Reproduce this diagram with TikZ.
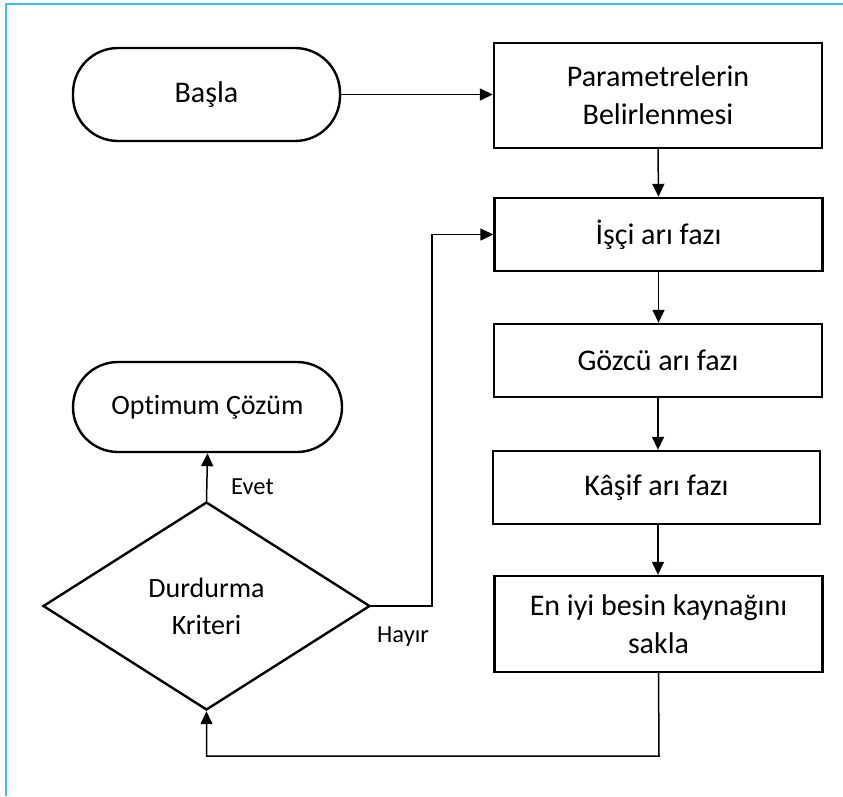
\documentclass[tikz,border=0pt]{standalone}
\usepackage{fontspec}
\setmainfont{Carlito}[Ligatures=NoCommon]
\usetikzlibrary{shapes.geometric,arrows.meta}
\definecolor{framebl}{RGB}{60,190,238}
\begin{document}
\begin{tikzpicture}[x=1pt,y=-1pt,
  boxtxt/.style={font=\fontsize{30}{38}\selectfont, align=center, inner sep=0pt},
  procbox/.style={boxtxt, draw, line width=2.4pt, minimum width=328pt, minimum height=74pt},
  termbox/.style={draw, line width=2.4pt, rounded corners=45pt, inner sep=0pt, align=center},
  decbox/.style={draw, diamond, line width=2.4pt, inner sep=0pt, aspect=1.57,
    minimum width=327pt, minimum height=208pt, align=center,
    font=\fontsize{28}{37}\selectfont},
  lbl/.style={font=\fontsize{24.5}{30}\selectfont, inner sep=0pt},
  arr/.style={line width=1.5pt, -{Triangle[length=13pt,width=12pt]}},
  plain/.style={line width=1.5pt}]
  \useasboundingbox (0,0) rectangle (843,796);
  % frame edges along the top and left
  \draw[framebl, line width=2.2pt] (6,796) -- (6,4) -- (843,4);

  % terminals
  \node[termbox, boxtxt, minimum width=267pt, minimum height=93pt] (start) at (206.5,94.5) {Başla};
  \node[termbox, minimum width=269pt, minimum height=90pt,
        font=\fontsize{28}{34}\selectfont] (opt) at (207.5,407) {Optimum Çözüm};

  % process column
  \node[procbox, minimum height=105pt] (param) at (658,95.5) {Parametrelerin\\Belirlenmesi};
  \node[procbox, minimum height=73pt] (isci) at (658.5,234.5) {İşçi arı fazı};
  \node[procbox, minimum height=73pt] (gozcu) at (658,360.5) {Gözcü arı fazı};
  \node[procbox, minimum width=327pt, minimum height=73pt] (kasif) at (656.5,487.5) {Kâşif arı fazı};
  \node[procbox, minimum height=96pt] (enyi) at (658.5,624) {En iyi besin kaynağını\\sakla};

  % decision
  \node[decbox] (dec) at (206.5,606) {Durdurma\\Kriteri};

  % connectors
  \draw[arr] (start.east) -- (param.west |- start.east);
  \draw[arr] (param.south) -- (isci.north);
  \draw[arr] (isci.south) -- (gozcu.north -| isci.south);
  \draw[arr] (gozcu.south) -- (kasif.north -| gozcu.south);
  \draw[arr] (kasif.south -| gozcu.south) -- (enyi.north -| gozcu.south);
  \draw[arr] (dec.north) -- (opt.south);
  \coordinate (hbend) at (432,606);
  \draw[arr] (dec.east) -- (hbend) |- (isci.west);
  \coordinate (loopcorner) at (659,756);
  \draw[arr] (enyi.south) -- (loopcorner) -| (dec.south);

  % branch labels
  \node[lbl, anchor=base west] (evet) at (231,494) {Evet};
  \node[lbl, anchor=base west] (hayir) at (377,642) {Hayır};
\end{tikzpicture}
\end{document}
